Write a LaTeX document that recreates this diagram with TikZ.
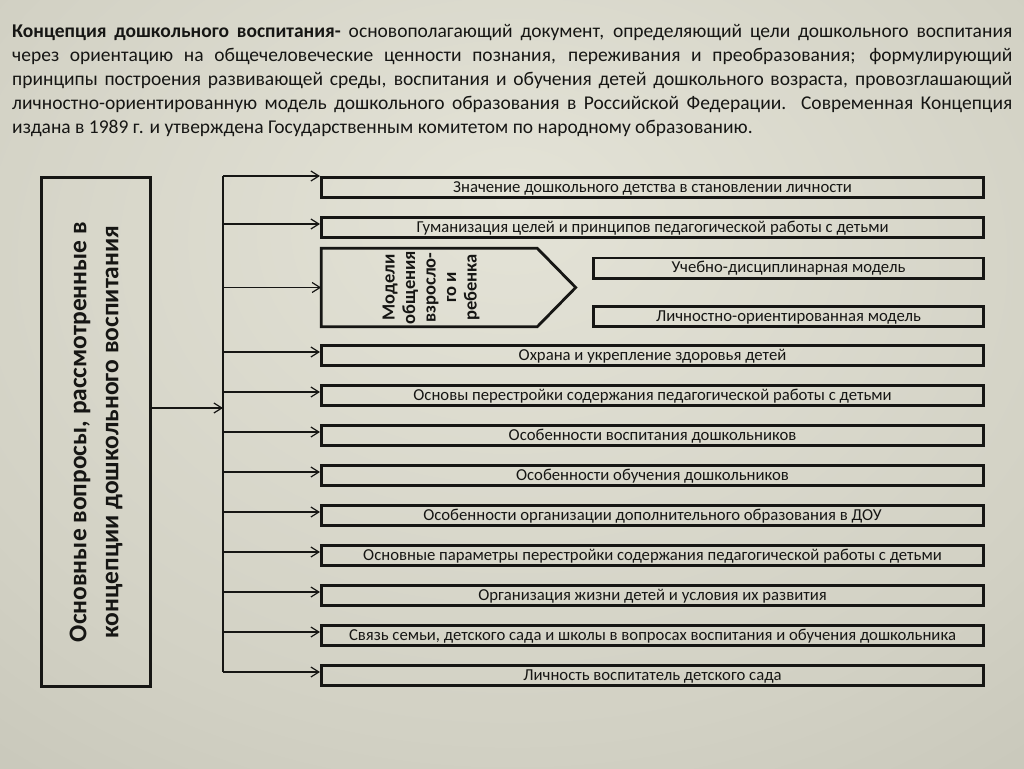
\documentclass[tikz,border=0pt]{standalone}
\usepackage{fontspec}
\setmainfont{Carlito}
\usetikzlibrary{arrows.meta,calc}

\definecolor{bgin}{RGB}{228,227,215}
\definecolor{bgmid}{RGB}{210,209,196}
\definecolor{bgout}{RGB}{172,171,158}
\definecolor{ink}{RGB}{22,22,20}
\pgfdeclareradialshading{bgshade}{\pgfpoint{0bp}{12bp}}{color(0bp)=(bgin); color(30bp)=(bgmid); color(72bp)=(bgout)}

\tikzset{
    item/.style={draw=ink, line width=2.8pt, minimum width=662.2pt, minimum height=20.2pt,
        inner sep=0pt, text height=12.5pt, text depth=3.5pt, text=ink, font=\fontsize{16.7}{19}\selectfont},
    link/.style={draw=ink, line width=1.2pt, -{Straight Barb[length=8pt,width=10pt]}},
}

\begin{document}
\begin{tikzpicture}[x=1pt,y=-1pt]
    \shade[shading=bgshade] (0,0) rectangle (1024,768);
    \useasboundingbox (0,0) rectangle (1024,768);
    % intro paragraph
    \node[anchor=north west, text width=1000pt, align=justify, inner sep=0pt, text=ink,
        font=\fontsize{19.5}{24}\selectfont] (intro) at (12,24)
        {\textbf{Концепция дошкольного воспитания-} основополагающий документ, определяющий цели дошкольного воспитания\linebreak через ориентацию на общечеловеческие ценности познания, переживания и преобразования; формулирующий\linebreak принципы построения развивающей среды, воспитания и обучения детей дошкольного возраста, провозглашающий\linebreak личностно-ориентированную модель дошкольного образования в Российской Федерации. Современная Концепция\linebreak издана в 1989 г. и утверждена Государственным комитетом по народному образованию.};
    % left box
    \node[draw=ink, line width=2.8pt, minimum width=109.2pt, minimum height=509.2pt] (main) at (96,432) {};
    \node[rotate=90, align=center, text=ink, font=\bfseries\fontsize{25.5}{32}\selectfont] (maintxt) at (main.center)
        {Основные вопросы, рассмотренные в\\концепции дошкольного воспитания};
    % right boxes
    \foreach\y/\t [count=\i] in {
        187.5/{Значение дошкольного детства в становлении личности},
        227.5/{Гуманизация целей и принципов педагогической работы с детьми},
        355.5/{Охрана и укрепление здоровья детей},
        395.5/{Основы перестройки содержания педагогической работы с детьми},
        435.5/{Особенности воспитания дошкольников},
        475.5/{Особенности обучения дошкольников},
        515.5/{Особенности организации дополнительного образования в ДОУ},
        555.5/{Основные параметры перестройки содержания педагогической работы с детьми},
        595.5/{Организация жизни детей и условия их развития},
        635.5/{Связь семьи, детского сада и школы в вопросах воспитания и обучения дошкольника},
        675.5/{Личность воспитатель детского сада}}{
        \node[item] (b\i) at (652.5,\y) {\t};
    }
    % models
    \node[minimum width=215.6pt, minimum height=78.2pt, inner sep=0pt] (model) at (429.2,287.5) {};
    \draw[draw=ink, line width=2.8pt, line join=miter] (model.north west) -- (model.north east)
        -- ($(model.east)+(38.5,0)$) -- (model.south east) -- (model.south west) -- cycle;
    \node[rotate=90, align=center, text=ink, font=\bfseries\fontsize{18.5}{20.5}\selectfont] (modeltxt) at (431,287.5)
        {Модели\\общения\\взросло-\\го и\\ребенка};
    \node[item, minimum width=390.2pt] (m1) at (788.5,268) {Учебно-дисциплинарная модель};
    \node[item, minimum width=390.2pt] (m2) at (788.5,316.5) {Личностно-ориентированная модель};
    % connectors
    \coordinate (stop) at (223,176);
    \foreach\i in{2,...,11}{
        \coordinate (a\i) at ($(b\i.west)+(0,-3.5)$);
        \draw[link] (stop |- a\i) -- (a\i);
    }
    \draw[draw=ink, line width=1.2pt] (stop) -- (stop |- a11);
    \draw[link] (stop) -- (b1.north west);
    \draw[link] (stop |- model.west) -- (model.west);
    \coordinate (mout) at ($(main.east)+(0,-24)$);
    \draw[link] (mout) -- (mout -| stop);
\end{tikzpicture}
\end{document}
